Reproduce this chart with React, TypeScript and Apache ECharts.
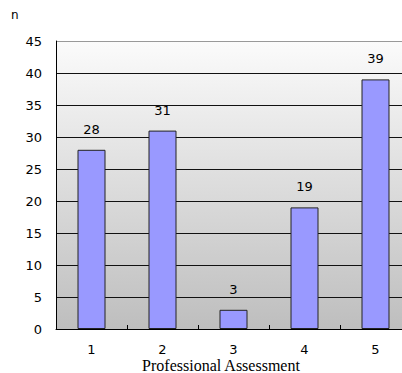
import React, { useEffect, useRef } from "react";
import * as echarts from "echarts";

const categories = ["1", "2", "3", "4", "5"];
const counts = [28, 31, 3, 19, 39];
const yTicks = { min: 0, max: 45, interval: 5 };
const xAxisTitle = "Professional Assessment";
const yAxisTitle = "n";

export default function App() {
  const ref = useRef<HTMLDivElement>(null);
  useEffect(() => {
    if (!ref.current) return;
    const chart = echarts.init(ref.current, null, { renderer: "svg" });
    const gridColors = ["#000", "#111", "#111", "#111", "#111", "#111", "#111", "#111", "#111", "#999"];
    chart.setOption({
      animation: false,
      textStyle: { fontFamily: "DejaVu Sans, sans-serif" },
      grid: {
        left: 56,
        top: 41,
        width: 355,
        height: 288,
        outerBoundsMode: "none",
        containLabel: false,
        show: true,
        borderWidth: 0,
        backgroundColor: new echarts.graphic.LinearGradient(0, 0, 0, 1, [
          { offset: 0, color: "#fbfbfb" },
          { offset: 1, color: "#bebebe" },
        ]),
      },
      graphic: [
        {
          type: "text",
          left: 11,
          top: 9,
          style: { text: yAxisTitle, fontSize: 12, fill: "#000", fontFamily: "DejaVu Sans, sans-serif" },
        },
        {
          type: "text",
          x: 221,
          y: 365,
          style: {
            text: xAxisTitle,
            fontSize: 16,
            fill: "#000",
            fontFamily: "Liberation Serif, serif",
            textAlign: "center",
            textVerticalAlign: "middle",
          },
        },
      ],
      xAxis: {
        type: "category",
        data: categories,
        boundaryGap: true,
        axisLine: { lineStyle: { color: "#000", width: 1 } },
        axisTick: { show: true, inside: true, length: 4, lineStyle: { color: "#000" } },
        axisLabel: { color: "#000", fontSize: 13, margin: 14 },
        z: 5,
      },
      yAxis: {
        type: "value",
        min: yTicks.min,
        max: yTicks.max,
        interval: yTicks.interval,
        axisLine: { show: true, lineStyle: { color: "#000", width: 1 } },
        axisTick: { show: false },
        axisLabel: { color: "#000", fontSize: 13, margin: 14 },
        splitLine: { show: true, lineStyle: { color: gridColors, width: 1 } },
      },
      series: [
        {
          type: "bar",
          data: counts,
          barWidth: 28,
          z: 2,
          itemStyle: { color: "#9999ff", borderColor: "#222", borderWidth: 1 },
          label: { show: true, position: "top", distance: 14, color: "#000", fontSize: 13 },
        },
      ],
    });
    return () => chart.dispose();
  }, []);
  return <div ref={ref} style={{ width: 402, height: 373, position: "absolute", left: 0, top: 0 }} />;
}
